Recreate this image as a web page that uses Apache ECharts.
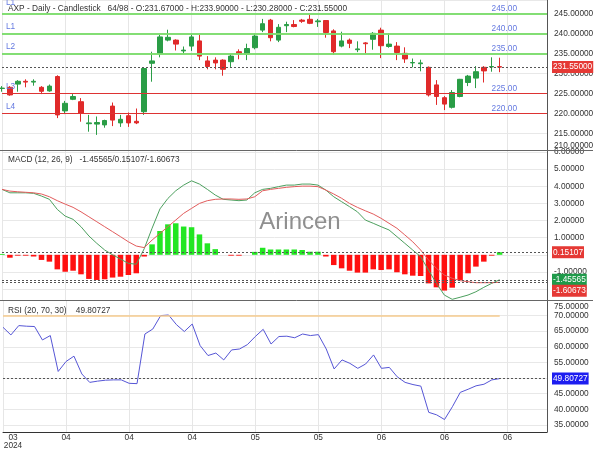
<!DOCTYPE html>
<html><head><meta charset="utf-8">
<script src="https://cdn.jsdelivr.net/npm/echarts@6/dist/echarts.min.js"></script>
<style>html,body{margin:0;padding:0;background:#fff}#c{width:600px;height:450px}</style>
</head><body><div id="c"></div>
<script>
const symbol = 'AXP';
const totalBars = 98;
const dates = [
 '2024-03-25','2024-03-26','2024-03-27','2024-03-28',
 '2024-04-01','2024-04-02','2024-04-03','2024-04-04','2024-04-05','2024-04-08','2024-04-09','2024-04-10','2024-04-11','2024-04-12',
 '2024-04-15','2024-04-16','2024-04-17','2024-04-18','2024-04-19','2024-04-22','2024-04-23','2024-04-24','2024-04-25','2024-04-26',
 '2024-04-29','2024-04-30',
 '2024-05-01','2024-05-02','2024-05-03','2024-05-06','2024-05-07','2024-05-08','2024-05-09','2024-05-10','2024-05-13','2024-05-14',
 '2024-05-15','2024-05-16','2024-05-17','2024-05-20','2024-05-21','2024-05-22','2024-05-23','2024-05-24','2024-05-28','2024-05-29',
 '2024-05-30','2024-05-31',
 '2024-06-03','2024-06-04','2024-06-05','2024-06-06','2024-06-07','2024-06-10','2024-06-11','2024-06-12','2024-06-13','2024-06-14',
 '2024-06-17','2024-06-18','2024-06-20','2024-06-21','2024-06-24','2024-06-25','2024-06-26','2024-06-27','2024-06-28',
 '2024-07-01','2024-07-02','2024-07-03'
];
// [open, close, low, high]
const candles = [
 [226.2,226.3,225.4,226.8],[226.5,224.6,224.4,226.8],[227.3,228.0,225.4,228.3],[228.0,227.8,226.5,228.5],
 [227.8,228.0,226.9,228.5],[226.5,225.5,224.8,226.8],[225.6,226.8,225.4,227.2],[229.2,219.6,218.8,229.5],
 [220.6,222.5,219.8,223.1],[223.5,224.2,223.3,224.8],[222.9,220.0,217.9,223.8],[217.4,217.6,215.4,219.6],
 [217.3,217.7,214.6,219.2],[217.1,218.2,216.4,218.4],[221.8,218.3,216.8,222.7],[217.6,218.5,216.6,219.6],
 [219.4,217.6,216.6,220.2],[218.0,217.6,217.3,221.2],[220.4,231.2,219.6,231.5],[232.5,233.1,227.9,235.4],
 [235.0,239.1,234.0,239.6],[238.3,239.0,238.0,240.9],[238.3,237.3,235.7,238.5],[235.6,235.8,235.0,236.7],
 [236.8,239.1,235.6,239.6],[238.1,234.3,233.3,239.6],[233.1,231.7,231.0,234.3],[233.3,232.6,231.0,234.0],
 [233.3,231.0,229.4,233.5],[232.9,234.3,231.6,234.8],[235.4,234.8,233.5,236.0],[234.8,236.2,233.3,237.4],
 [236.4,239.3,236.0,240.0],[240.8,242.4,240.3,243.6],[243.3,238.9,238.0,243.6],[238.3,241.5,237.8,242.3],
 [241.9,242.2,240.3,242.9],[242.2,241.7,241.5,243.3],[243.3,243.0,242.6,243.6],[243.5,242.5,242.3,244.6],
 [242.9,243.1,241.6,243.6],[243.2,240.2,238.9,243.3],[240.6,235.4,234.6,241.0],[236.8,238.1,236.5,240.4],
 [238.3,237.5,236.3,238.7],[235.9,236.1,235.3,238.0],[237.6,237.4,235.0,237.8],[238.5,240.0,235.9,240.3],
 [240.8,236.9,233.8,241.4],[236.7,237.3,236.4,240.0],[236.8,235.2,233.3,237.8],[235.0,233.6,232.6,236.5],
 [232.6,232.7,231.5,233.7],[232.4,232.6,230.5,233.4],[231.5,224.6,224.2,231.7],[227.1,224.2,222.1,228.3],
 [223.9,222.3,220.8,224.3],[221.5,225.2,221.2,225.8],[224.2,228.5,224.0,228.6],[227.7,229.3,226.8,229.6],
 [228.8,230.4,226.3,231.8],[231.5,230.6,227.7,231.8],[231.6,231.7,230.4,234.0],[231.67,231.55,230.28,233.90]
];
const macdLine = [3.82,3.62,3.62,3.62,3.59,3.43,3.24,2.65,2.26,2.07,1.64,1.10,0.67,0.28,0.00,-0.25,-0.50,-0.55,0.35,1.55,
 2.68,3.29,3.74,4.07,4.32,4.13,3.82,3.49,3.24,3.20,3.16,3.20,3.62,3.82,3.88,3.98,4.07,4.07,4.13,4.13,
 4.07,3.78,3.39,3.10,2.81,2.51,2.03,1.84,1.64,1.45,1.06,0.67,0.28,-0.11,-0.89,-1.67,-2.35,-2.60,-2.48,-2.35,
 -2.16,-1.90,-1.67,-1.45565];
const signalLine = [3.82,3.72,3.68,3.65,3.62,3.55,3.39,3.16,2.96,2.77,2.51,2.22,1.93,1.64,1.35,1.06,0.76,0.51,0.42,0.86,
 1.25,1.64,2.03,2.42,2.71,3.00,3.16,3.24,3.26,3.26,3.24,3.26,3.39,3.74,3.82,3.88,3.94,3.98,4.01,4.01,
 3.98,3.78,3.55,3.30,3.00,2.77,2.57,2.38,2.13,1.84,1.55,1.16,0.76,0.28,-0.30,-0.79,-1.18,-1.37,-1.51,-1.57,
 -1.63,-1.63,-1.63,-1.60673];
const macdHist = [0.05,-0.17,-0.05,-0.05,-0.10,-0.30,-0.40,-0.85,-0.99,-0.93,-1.14,-1.41,-1.47,-1.43,-1.33,-1.28,-1.18,-1.08,-0.10,0.61,
 1.39,1.78,1.84,1.65,1.61,1.19,0.67,0.33,0,-0.05,-0.05,0,0.17,0.41,0.31,0.31,0.31,0.31,0.28,0.18,
 0.18,-0.10,-0.60,-0.79,-0.93,-1.04,-1.04,-0.85,-0.89,-0.85,-1.02,-1.14,-1.22,-1.24,-1.67,-1.90,-2.09,-1.92,-1.47,-1.08,
 -0.69,-0.40,-0.05,0.15107];
const rsi = [66.25,63.8,66.8,66.6,66.5,62.2,63.6,52.1,55.3,57.0,51.3,48.6,49.0,49.3,49.4,49.4,48.3,48.2,64.1,65.7,
 70.0,70.2,67.1,64.9,67.3,60.4,57.2,58.0,55.8,59.0,59.3,60.7,63.3,65.6,60.9,63.3,63.4,62.9,64.1,63.6,
 63.9,59.3,52.9,55.8,54.7,53.1,54.5,57.4,53.1,53.4,50.4,48.6,47.9,47.4,39.0,38.2,36.7,40.8,45.4,46.4,
 47.5,48.0,49.4,49.80727];
const levels = [245, 240, 235, 225, 220];
const levelNames = ['L1', 'L1', 'L2', 'L3', 'L4'];
const macdParams = [12, 26, 9];
const rsiParams = [20, 70, 30];
const priceRange = [210, 248.33];
const macdRange = [-2.64, 6.12];
const rsiRange = [32.7, 75];

const n = candles.length;
const last = candles[n - 1];
const font = 'Liberation Sans';
const fs = 8.3;
const upColor = '#2a9d46', downColor = '#e02a2a';
const lvlText = '#6479e0';

const aboveMarks = [], belowMarks = [];
levels.forEach((v, i) => {
  const arr = v > last[1] ? aboveMarks : belowMarks;
  arr.push({yAxis: v,
    label: {show: true, position: 'insideStartTop', formatter: levelNames[i], color: lvlText, fontSize: fs, fontFamily: font, distance: [4, i === 0 ? 7 : 3]}});
  arr.push({yAxis: v,
    label: {show: true, position: 'insideEndTop', formatter: v.toFixed(2), color: lvlText, fontSize: fs, fontFamily: font, distance: [30, 0.5]}});
});

function boxLabel(val, bg, shift) {
  if (!shift) return {show: true, position: 'end', formatter: val.toFixed(5), backgroundColor: bg, color: '#fff', padding: [2, 1], fontSize: fs, fontFamily: font};
  return {show: true, position: 'end', formatter: '{g|}\n{b|' + val.toFixed(5) + '}', fontSize: fs, fontFamily: font,
    rich: {g: {height: shift, lineHeight: shift}, b: {backgroundColor: bg, color: '#fff', padding: [2, 1], fontSize: fs, fontFamily: font}}};
}
const dash = {color: '#555', width: 1, type: [2, 2]};
const mk = (data, lineStyle) => ({symbol: 'none', silent: true, animation: false, lineStyle: lineStyle, data: data});

const xCommon = gi => ({
  type: 'category', gridIndex: gi, data: dates, boundaryGap: false,
  axisLine: {show: false}, axisTick: {show: false}, axisLabel: {show: false},
  splitLine: {show: true, interval: 7, lineStyle: {color: '#e6e6e6'}}
});
const yCommon = {
  type: 'value', position: 'right',
  axisLine: {show: true, lineStyle: {color: '#555'}}, axisTick: {show: false},
  splitLine: {show: true, lineStyle: {color: '#e8e8e8'}}
};
const tokenStyle = {fontSize: fs, fontFamily: font, color: '#333'};
const yLabel = extra => Object.assign({color: '#333', fontSize: fs, fontFamily: font, margin: 7, hideOverlap: false, formatter: v => v.toFixed(5)}, extra);

const x2 = xCommon(2);
x2.axisLine = {show: true, lineStyle: {color: '#333'}};
x2.axisLabel = {show: true, interval: 7, color: '#333', fontSize: fs, fontFamily: font, margin: 1, lineHeight: 8.5,
  alignMinLabel: 'left',
  formatter: (v, i) => i === 0 ? '{a|' + v.slice(5, 7) + '}\n{a|' + v.slice(0, 4) + '}' : v.slice(5, 7),
  rich: {a: {width: 20, align: 'center', fontSize: fs, fontFamily: font, color: '#333', lineHeight: 8.5}}};

const option = {
  animation: false,
  backgroundColor: '#fff',
  textStyle: {fontFamily: font},
  title: [
    {text: `${symbol} - Daily - Candlestick   ${n}/${totalBars} - O:${last[0].toFixed(5)} - H:${last[3].toFixed(5)} - L:${last[2].toFixed(5)} - C:${last[1].toFixed(5)}`,
     left: 8, top: 5, padding: 0, textStyle: {fontSize: fs, fontWeight: 'normal', color: '#333', fontFamily: font}},
    {text: `MACD (${macdParams.join(', ')})   ${macdLine[n-1].toFixed(5)}/${macdHist[n-1].toFixed(5)}/${signalLine[n-1].toFixed(5)}`,
     left: 8, top: 156, padding: 0, textStyle: {fontSize: fs, fontWeight: 'normal', color: '#333', fontFamily: font}},
    {text: `RSI (${rsiParams.join(', ')})    ${rsi[n-1].toFixed(5)}`,
     left: 8, top: 307, padding: 0, textStyle: {fontSize: fs, fontWeight: 'normal', color: '#333', fontFamily: font}}
  ],
  graphic: [
    {type: 'text', x: 300, y: 222, z: 1, silent: true,
     style: {text: 'Arincen', fontSize: 24, fontFamily: font, fill: '#8f8f8f', align: 'center', verticalAlign: 'middle', textAlign: 'center', textVerticalAlign: 'middle'}},
    {type: 'line', z: 10, silent: true, shape: {x1: 0, y1: 150.5, x2: 593, y2: 150.5}, style: {stroke: '#666', lineWidth: 1}},
    {type: 'line', z: 10, silent: true, shape: {x1: 0, y1: 300.5, x2: 593, y2: 300.5}, style: {stroke: '#666', lineWidth: 1}}
  ],
  grid: [
    {left: 2, right: 53, top: 0, height: 153.3},
    {left: 2, right: 53, top: 150, height: 150},
    {left: 2, right: 53, top: 300, height: 132}
  ],
  xAxis: [xCommon(0), xCommon(1), x2],
  yAxis: [
    Object.assign({}, yCommon, {gridIndex: 0, min: priceRange[0], max: priceRange[1], minInterval: 5, maxInterval: 5,
      splitLine: {show: true, showMinLine: false, lineStyle: {color: '#e8e8e8'}},
      axisLabel: yLabel({showMaxLabel: false, showMinLabel: true,
        formatter: v => v <= priceRange[0] ? '{lo|' + v.toFixed(5) + '}' : v.toFixed(5),
        rich: {lo: Object.assign({padding: [0, 0, 16, 0]}, tokenStyle)}})}),
    Object.assign({}, yCommon, {gridIndex: 1, min: macdRange[0], max: macdRange[1], minInterval: 1, maxInterval: 1,
      axisLabel: yLabel({showMaxLabel: false, showMinLabel: false})}),
    Object.assign({}, yCommon, {gridIndex: 2, min: rsiRange[0], max: rsiRange[1], minInterval: 5, maxInterval: 5,
      axisLabel: yLabel({showMaxLabel: true, showMinLabel: false,
        formatter: v => v >= rsiRange[1] ? '{hi|' + v.toFixed(5) + '}' : v.toFixed(5),
        rich: {hi: Object.assign({padding: [14, 0, 0, 0]}, tokenStyle)}})})
  ],
  series: [
    {type: 'candlestick', xAxisIndex: 0, yAxisIndex: 0, data: candles, barWidth: 5, clip: false,
     itemStyle: {color: upColor, color0: downColor, borderColor: upColor, borderColor0: downColor, borderWidth: 1},
     markLine: mk([{yAxis: last[1],
       label: {show: true, position: 'end', formatter: last[1].toFixed(5), backgroundColor: '#e53935', color: '#fff', padding: [2, 1], fontSize: fs, fontFamily: font}}], dash)},
    {type: 'line', xAxisIndex: 0, yAxisIndex: 0, data: [], silent: true,
     markLine: mk(aboveMarks, {color: '#7ddc6c', width: 1.5, type: 'solid'})},
    {type: 'line', xAxisIndex: 0, yAxisIndex: 0, data: [], silent: true,
     markLine: mk(belowMarks, {color: '#dd3333', width: 1.2, type: 'solid'})},
    {type: 'bar', xAxisIndex: 1, yAxisIndex: 1, barWidth: 5.5, clip: false,
     data: macdHist.map(v => ({value: v, itemStyle: {color: v >= 0 ? '#22e622' : '#ff1010'}})),
     markLine: mk([{yAxis: macdHist[n-1], label: boxLabel(macdHist[n-1], '#e53935')}], dash)},
    {type: 'line', xAxisIndex: 1, yAxisIndex: 1, data: macdLine, showSymbol: false, symbol: 'none',
     lineStyle: {color: '#4c9f5e', width: 1},
     markLine: mk([{yAxis: macdLine[n-1], label: boxLabel(macdLine[n-1], '#1f9a4a')}], dash)},
    {type: 'line', xAxisIndex: 1, yAxisIndex: 1, data: signalLine, showSymbol: false, symbol: 'none',
     lineStyle: {color: '#e25c5c', width: 1},
     markLine: mk([{yAxis: signalLine[n-1], label: boxLabel(signalLine[n-1], '#e53935', 17)}], dash)},
    {type: 'line', xAxisIndex: 2, yAxisIndex: 2, data: rsi, showSymbol: false, symbol: 'none',
     lineStyle: {color: '#5656d6', width: 1},
     markLine: mk([{yAxis: rsi[n-1], label: boxLabel(rsi[n-1], '#1d1df0')}], dash)},
    {type: 'line', xAxisIndex: 2, yAxisIndex: 2, data: [], silent: true,
     markLine: mk([[{coord: [dates[0], rsiParams[1]], label: {show: false}}, {coord: [dates[n-1], rsiParams[1]]}]],
       {color: '#f6cb8e', width: 1.5, type: 'solid'})}
  ]
};
const chart = echarts.init(document.getElementById('c'), null, {renderer: 'canvas'});
chart.setOption(option);
</script>
</body></html>
